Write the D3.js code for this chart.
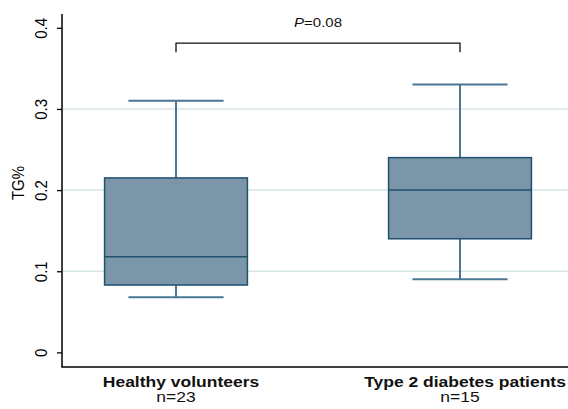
<!DOCTYPE html>
<html>
<head>
<meta charset="utf-8">
<script src="https://cdn.jsdelivr.net/npm/d3@7"></script>
<style>
  body { margin: 0; background: #fff; }
  text { font-family: "Liberation Sans", Arial, sans-serif; }
</style>
</head>
<body>
<svg id="chart"></svg>
<script>
// Data
const groups = ["Healthy volunteers", "Type 2 diabetes patients"];
const counts = ["n=23", "n=15"];
const whiskerLow = [0.068, 0.09];
const q1 = [0.083, 0.14];
const median = [0.118, 0.2];
const q3 = [0.215, 0.24];
const whiskerHigh = [0.31, 0.33];
const yTicks = [0, 0.1, 0.2, 0.3, 0.4];
const gridTicks = [0.1, 0.2, 0.3];
const pLabel = "0.08";
const bracketLevel = [0.381, 0.370];

const width = 568, height = 409;
const stretch = 1.25; // text in the picture is wider than normal

const svg = d3.select("#chart")
  .attr("width", width)
  .attr("height", height);

const x = d3.scalePoint()
  .domain(groups)
  .range([62, 574])
  .padding(0.4014);

const y = d3.scaleLinear()
  .domain([-0.018, 0.417])
  .range([367, 14]);

const step = x.step();
const boxW = step * 0.503;
const capW = step * 0.335;

const boxFill = "#7a96a8";
const boxStroke = "#22506f";
const whiskerColor = "#4a7794";

// grid lines
svg.selectAll(".grid")
  .data(gridTicks)
  .enter()
  .append("line")
  .attr("x1", 62)
  .attr("x2", width)
  .attr("y1", d => y(d))
  .attr("y2", d => y(d))
  .attr("stroke", "#d6e6e8")
  .attr("stroke-width", 1.5);

// y axis
const yAxis = svg.append("g")
  .attr("transform", "translate(62,0)")
  .call(d3.axisLeft(y).tickValues(yTicks).tickSize(5));
yAxis.select(".domain").remove();
yAxis.selectAll(".tick line").attr("stroke", "#000").attr("stroke-width", 1.3);
yAxis.selectAll(".tick text").remove();

yAxis.selectAll(".tick")
  .append("text")
  .attr("transform", `translate(-15.5,0) scale(1.1,1) rotate(-90)`)
  .attr("text-anchor", "middle")
  .attr("fill", "#000")
  .style("font-size", "15px")
  .text(d => d3.format(".1~f")(d));

svg.append("text")
  .attr("transform", `translate(23.5,183) scale(1.1,1) rotate(-90)`)
  .attr("text-anchor", "middle")
  .style("font-size", "15px")
  .text("TG%");

// axis lines
svg.append("line")
  .attr("x1", 62).attr("x2", 62)
  .attr("y1", y(0.417)).attr("y2", y(-0.018))
  .attr("stroke", "#000").attr("stroke-width", 1.5);
svg.append("line")
  .attr("x1", 61.25).attr("x2", width)
  .attr("y1", y(-0.018)).attr("y2", y(-0.018))
  .attr("stroke", "#000").attr("stroke-width", 1.5);

// boxes
const boxes = svg.selectAll(".box")
  .data(groups)
  .enter()
  .append("g")
  .attr("class", "box");

boxes.append("line")
  .attr("x1", d => x(d)).attr("x2", d => x(d))
  .attr("y1", (d, i) => y(whiskerHigh[i]))
  .attr("y2", (d, i) => y(q3[i]))
  .attr("stroke", whiskerColor).attr("stroke-width", 2);
boxes.append("line")
  .attr("x1", d => x(d)).attr("x2", d => x(d))
  .attr("y1", (d, i) => y(q1[i]))
  .attr("y2", (d, i) => y(whiskerLow[i]))
  .attr("stroke", whiskerColor).attr("stroke-width", 2);

boxes.selectAll(".cap")
  .data((d, i) => [whiskerLow[i], whiskerHigh[i]].map(v => ({ g: d, v: v })))
  .enter()
  .append("line")
  .attr("class", "cap")
  .attr("x1", d => x(d.g) - capW / 2)
  .attr("x2", d => x(d.g) + capW / 2)
  .attr("y1", d => y(d.v))
  .attr("y2", d => y(d.v))
  .attr("stroke", whiskerColor).attr("stroke-width", 2);

boxes.append("rect")
  .attr("x", d => x(d) - boxW / 2)
  .attr("width", boxW)
  .attr("y", (d, i) => y(q3[i]))
  .attr("height", (d, i) => y(q1[i]) - y(q3[i]))
  .attr("fill", boxFill)
  .attr("stroke", boxStroke)
  .attr("stroke-width", 1.5);

boxes.append("line")
  .attr("x1", d => x(d) - boxW / 2)
  .attr("x2", d => x(d) + boxW / 2)
  .attr("y1", (d, i) => y(median[i]))
  .attr("y2", (d, i) => y(median[i]))
  .attr("stroke", boxStroke).attr("stroke-width", 1.5);

// category labels
boxes.append("text")
  .attr("transform", d => `translate(${x(d) + 5},386.5) scale(${stretch},1)`)
  .attr("text-anchor", "middle")
  .style("font-size", "14px")
  .style("font-weight", "bold")
  .attr("fill", "#111")
  .text(d => d);

boxes.append("text")
  .attr("transform", d => `translate(${x(d)},401.5) scale(${stretch},1)`)
  .attr("text-anchor", "middle")
  .style("font-size", "14px")
  .attr("fill", "#111")
  .text((d, i) => counts[i]);

// significance bracket
const bx1 = x(groups[0]), bx2 = x(groups[1]);
svg.append("path")
  .attr("d", `M${bx1},${y(bracketLevel[1])}V${y(bracketLevel[0])}H${bx2}V${y(bracketLevel[1])}`)
  .attr("fill", "none")
  .attr("stroke", "#111")
  .attr("stroke-width", 1.3);

const pText = svg.append("text")
  .attr("transform", `translate(${(bx1 + bx2) / 2},27) scale(${stretch},1)`)
  .attr("text-anchor", "middle")
  .style("font-size", "12px")
  .attr("fill", "#111");
pText.append("tspan").style("font-style", "italic").text("P");
pText.append("tspan").text("=" + pLabel);
</script>
</body>
</html>
